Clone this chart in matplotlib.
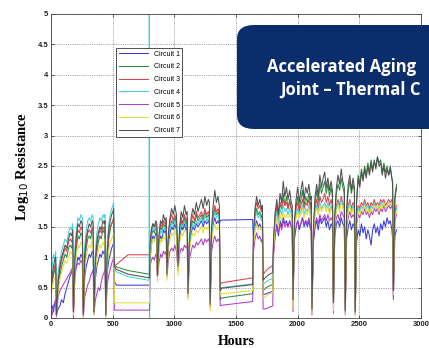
import matplotlib
matplotlib.use("Agg")
import matplotlib.pyplot as plt
from matplotlib.patches import FancyBboxPatch
from matplotlib.ticker import FuncFormatter

# hours of the samples (shared by every circuit)
hours = [
    0, 10, 20, 30, 38,
    44, 58, 72, 86, 100, 114, 128, 142, 156, 168, 176,
    182, 194, 206, 218, 230, 242, 254,
    262, 274, 286, 298, 310, 322, 334, 342,
    348, 360, 372, 384, 396, 408, 420, 432, 438,
    444, 456, 468, 480, 492, 502, 508,
    514, 530, 625, 795, 797, 799,
    803, 814, 826, 838, 850, 858,
    863, 875, 888, 900, 912, 924, 934,
    940, 952, 965, 978, 991, 1004, 1017, 1030, 1043, 1056, 1069, 1082, 1095, 1104,
    1111, 1122, 1136, 1150, 1164, 1178, 1192, 1206, 1220, 1234, 1248, 1262, 1276, 1284,
    1291, 1302, 1315, 1328, 1341, 1354, 1365,
    1372, 1385, 1635,
    1642, 1654, 1667, 1680, 1693, 1706, 1714,
    1720, 1745, 1772, 1798,
    1805, 1818, 1831, 1844, 1857, 1870, 1883, 1896, 1909, 1922, 1935, 1948, 1956,
    1962, 1974, 1987, 2000, 2013, 2026, 2039, 2052, 2065, 2078, 2091, 2104, 2110,
    2116, 2128, 2141, 2154, 2167, 2180, 2193, 2206, 2219, 2232, 2245, 2258, 2271, 2282,
    2290, 2301, 2314, 2327, 2340, 2353, 2366, 2378,
    2386, 2397, 2410, 2423, 2436, 2449, 2460,
    2467, 2478, 2491, 2504, 2517, 2530, 2543, 2556, 2569, 2582, 2595, 2608, 2621,
    2634, 2647, 2660, 2673, 2686, 2699, 2712, 2725, 2738, 2751, 2764, 2770,
    2776, 2788, 2802,
]

circuit1 = [
    0.15, 0.2, 0.1, 0.25, 0.3,
    0.05, 0.15, 0.2, 0.3, 0.25, 0.4, 0.5, 0.6, 0.7, 0.75, 0.85,
    0.1, 0.7, 0.85, 1.0, 0.95, 1.05, 1.0,
    0.05, 0.7, 0.85, 0.95, 1.05, 1.0, 1.1, 1.05,
    0.1, 0.65, 0.85, 0.95, 1.05, 1.0, 1.1, 1.05, 1.1,
    0.05, 0.75, 0.95, 1.05, 1.15, 1.2, 1.25,
    0.6, 0.54, 0.54, 0.54, 0.54, 0.54,
    0.95, 1.2, 1.35, 1.3, 1.4, 1.35,
    0.7, 1.15, 1.35, 1.3, 1.45, 1.4, 1.45,
    0.72, 1.2, 1.4, 1.5, 1.45, 1.55, 1.45, 0.82, 1.3, 1.5, 1.45, 1.55, 1.45, 1.5,
    0.42, 1.15, 1.4, 1.5, 1.45, 1.55, 1.5, 1.55, 1.6, 1.5, 1.6, 1.55, 1.6, 1.55,
    0.25, 1.35, 1.55, 1.65, 1.55, 1.6, 1.55,
    1.6, 1.61, 1.62,
    1.25, 1.5, 1.6, 1.5, 1.55, 1.45, 1.5,
    0.38, 0.4, 0.42, 0.44,
    1.1, 1.4, 1.55, 1.35, 1.6, 1.5, 1.65, 1.55, 1.6, 1.5, 1.6, 1.5, 1.45,
    0.3, 1.3, 1.5, 1.6, 1.45, 1.55, 1.65, 1.5, 1.6, 1.5, 1.6, 1.45, 1.5,
    0.15, 1.25, 1.5, 1.6, 1.45, 1.65, 1.55, 1.6, 1.65, 1.5, 1.6, 1.45, 1.55, 1.5,
    0.25, 1.35, 1.55, 1.6, 1.5, 1.65, 1.55, 1.5,
    0.1, 1.3, 1.5, 1.6, 1.45, 1.55, 1.5,
    0.08, 1.25, 1.45, 1.35, 1.55, 1.4, 1.5, 1.3, 1.45, 1.35, 1.2, 1.45, 1.55,
    1.4, 1.5, 1.35, 1.55, 1.45, 1.6, 1.5, 1.65, 1.55, 1.6, 1.45, 1.3,
    0.35, 1.35, 1.45,
]

circuit2 = [
    0.4, 0.6, 0.7, 0.8, 0.85,
    0.15, 0.5, 0.7, 0.85, 0.95, 1.05, 1.0, 1.15, 1.2, 1.15, 1.25,
    0.2, 0.85, 1.15, 1.35, 1.3, 1.4, 1.35,
    0.15, 0.9, 1.15, 1.3, 1.35, 1.3, 1.45, 1.4,
    0.2, 0.85, 1.1, 1.25, 1.35, 1.3, 1.45, 1.4, 1.45,
    0.15, 0.95, 1.3, 1.45, 1.55, 1.6, 1.65,
    0.88, 0.84, 0.78, 0.72, 0.72, 0.72,
    1.1, 1.35, 1.45, 1.4, 1.5, 1.45,
    0.75, 1.25, 1.5, 1.45, 1.55, 1.5, 1.55,
    0.8, 1.3, 1.5, 1.6, 1.55, 1.65, 1.55, 0.9, 1.4, 1.6, 1.5, 1.65, 1.55, 1.6,
    0.5, 1.2, 1.5, 1.6, 1.55, 1.7, 1.6, 1.65, 1.7, 1.6, 1.75, 1.65, 1.7, 1.65,
    0.35, 1.4, 1.65, 1.8, 1.7, 1.75, 1.65,
    0.3, 0.33, 0.4,
    1.3, 1.65, 1.8, 1.7, 1.75, 1.65, 1.7,
    0.45, 0.5, 0.53, 0.55,
    1.25, 1.65, 1.85, 1.6, 1.9, 1.8, 2.05, 1.85, 2.0, 1.8, 1.95, 1.8, 1.75,
    0.35, 1.55, 1.85, 2.0, 1.8, 1.95, 2.1, 1.85, 2.0, 1.9, 2.05, 1.85, 1.9,
    0.2, 1.45, 1.9, 2.1, 1.9, 2.2, 2.05, 2.15, 2.25, 2.05, 2.2, 2.0, 2.15, 2.0,
    0.3, 1.65, 2.05, 2.2, 2.1, 2.3, 2.15, 2.05,
    0.15, 1.75, 2.1, 2.25, 2.05, 2.2, 2.1,
    0.12, 1.95, 2.35, 2.2, 2.45, 2.3, 2.5, 2.35, 2.55, 2.4, 2.6, 2.45, 2.55,
    2.5, 2.65, 2.55, 2.6, 2.4, 2.55, 2.4, 2.5, 2.35, 2.45, 2.3, 2.25,
    0.5, 2.0, 2.2,
]

circuit3 = [
    0.5, 0.65, 0.75, 0.85, 0.9,
    0.1, 0.55, 0.8, 0.95, 1.05, 1.15, 1.1, 1.25, 1.3, 1.25, 1.35,
    0.15, 0.95, 1.25, 1.45, 1.4, 1.5, 1.45,
    0.1, 1.0, 1.25, 1.4, 1.45, 1.4, 1.5, 1.45,
    0.15, 0.9, 1.2, 1.35, 1.45, 1.4, 1.5, 1.45, 1.5,
    0.1, 1.0, 1.35, 1.5, 1.55, 1.6, 1.65,
    0.85, 0.88, 1.04, 1.04, 1.04, 1.04,
    1.25, 1.45, 1.55, 1.5, 1.55, 1.5,
    0.72, 1.3, 1.55, 1.5, 1.6, 1.55, 1.6,
    0.75, 1.35, 1.6, 1.7, 1.6, 1.7, 1.6, 0.85, 1.45, 1.65, 1.55, 1.7, 1.6, 1.65,
    0.45, 1.25, 1.55, 1.7, 1.6, 1.75, 1.65, 1.7, 1.75, 1.65, 1.8, 1.7, 1.75, 1.7,
    0.3, 1.45, 1.7, 1.85, 1.75, 1.8, 1.7,
    0.55, 0.58, 0.66,
    1.35, 1.75, 1.9, 1.8, 1.85, 1.75, 1.8,
    0.72, 0.78, 0.83, 0.86,
    1.3, 1.7, 1.85, 1.65, 1.9, 1.8, 1.95, 1.85, 1.9, 1.8, 1.9, 1.8, 1.75,
    0.4, 1.55, 1.8, 1.9, 1.75, 1.85, 1.95, 1.8, 1.9, 1.85, 1.95, 1.8, 1.85,
    0.25, 1.45, 1.8, 1.95, 1.8, 2.0, 1.9, 1.95, 2.05, 1.9, 2.0, 1.85, 1.95, 1.85,
    0.35, 1.6, 1.85, 1.95, 1.85, 2.0, 1.9, 1.85,
    0.2, 1.65, 1.85, 1.95, 1.8, 1.9, 1.85,
    0.15, 1.7, 1.85, 1.8, 1.9, 1.85, 1.95, 1.85, 1.9, 1.8, 1.9, 1.85, 1.95,
    1.85, 1.9, 1.85, 1.95, 1.9, 1.95, 1.85, 1.9, 1.95, 1.9, 1.95, 1.9,
    0.4, 1.75, 1.85,
]

circuit4 = [
    0.55, 0.85, 1.05, 0.95, 1.1,
    0.3, 0.75, 0.95, 1.1, 1.2, 1.3, 1.25, 1.4, 1.5, 1.45, 1.55,
    0.35, 1.15, 1.45, 1.65, 1.6, 1.7, 1.65,
    0.3, 1.2, 1.45, 1.6, 1.65, 1.6, 1.7, 1.65,
    0.3, 1.1, 1.4, 1.55, 1.65, 1.6, 1.7, 1.65, 1.7,
    0.25, 1.2, 1.55, 1.7, 1.8, 1.85, 1.9,
    0.82, 0.76, 0.68, 0.62, 5.8, -0.4,
    1.15, 1.4, 1.5, 1.45, 1.5, 1.45,
    0.75, 1.25, 1.45, 1.4, 1.5, 1.45, 1.5,
    0.78, 1.3, 1.5, 1.55, 1.5, 1.6, 1.5, 0.88, 1.4, 1.55, 1.5, 1.6, 1.5, 1.55,
    0.48, 1.2, 1.45, 1.55, 1.5, 1.6, 1.55, 1.6, 1.65, 1.55, 1.7, 1.6, 1.65, 1.6,
    0.3, 1.4, 1.6, 1.75, 1.65, 1.7, 1.6,
    0.48, 0.5, 0.56,
    1.3, 1.6, 1.75, 1.65, 1.7, 1.6, 1.65,
    0.55, 0.6, 0.63, 0.65,
    1.25, 1.6, 1.75, 1.55, 1.8, 1.7, 1.85, 1.75, 1.8, 1.7, 1.8, 1.7, 1.65,
    0.35, 1.5, 1.7, 1.8, 1.7, 1.75, 1.85, 1.7, 1.8, 1.75, 1.85, 1.7, 1.75,
    0.2, 1.4, 1.75, 1.85, 1.75, 1.9, 1.8, 1.85, 1.9, 1.8, 1.9, 1.75, 1.85, 1.75,
    0.3, 1.55, 1.8, 1.9, 1.8, 1.95, 1.85, 1.8,
    0.18, 1.6, 1.8, 1.9, 1.75, 1.85, 1.8,
    0.12, 1.65, 1.8, 1.75, 1.85, 1.8, 1.9, 1.8, 1.85, 1.75, 1.85, 1.8, 1.9,
    1.8, 1.85, 1.8, 1.9, 1.85, 1.9, 1.8, 1.85, 1.9, 1.85, 1.9, 1.85,
    0.45, 1.7, 1.8,
]

circuit5 = [
    0.1, 0.05, 0.2, 0.25, 0.3,
    0.02, 0.35, 0.45, 0.5, 0.55, 0.6, 0.65, 0.7, 0.75, 0.8, 0.82,
    0.0, 0.75, 0.85, 0.9, 0.88, 0.95, 0.9,
    0.0, 0.35, 0.45, 0.55, 0.6, 0.7, 0.75, 0.8,
    0.05, 0.3, 0.4, 0.5, 0.45, 0.6, 0.7, 0.75, 0.8,
    0.02, 0.55, 0.7, 0.8, 0.9, 0.95, 1.0,
    0.13, 0.13, 0.13, 0.13, 0.13, 0.13,
    0.85, 0.95, 1.0, 0.95, 1.05, 1.0,
    0.65, 0.9, 1.05, 1.0, 1.1, 1.05, 1.1,
    0.68, 0.95, 1.1, 1.15, 1.1, 1.2, 1.1, 0.78, 1.05, 1.15, 1.1, 1.2, 1.15, 1.2,
    0.35, 0.95, 1.1, 1.2, 1.15, 1.25, 1.2, 1.25, 1.3, 1.2, 1.3, 1.25, 1.3, 1.25,
    0.18, 1.1, 1.25, 1.35, 1.25, 1.3, 1.25,
    0.2, 0.21, 0.27,
    1.1, 1.3, 1.4, 1.3, 1.35, 1.25, 1.3,
    0.15, 0.15, 0.18, 0.2,
    1.05, 1.35, 1.5, 1.4, 1.55, 1.45, 1.6, 1.5, 1.55, 1.5, 1.6, 1.5, 1.45,
    0.1, 1.35, 1.5, 1.6, 1.5, 1.55, 1.65, 1.55, 1.6, 1.55, 1.65, 1.5, 1.55,
    0.05, 1.3, 1.55, 1.65, 1.55, 1.7, 1.6, 1.65, 1.7, 1.6, 1.7, 1.6, 1.65, 1.6,
    0.08, 1.45, 1.65, 1.7, 1.6, 1.75, 1.7, 1.65,
    0.05, 1.5, 1.65, 1.75, 1.65, 1.7, 1.65,
    0.05, 1.55, 1.7, 1.65, 1.75, 1.7, 1.8, 1.7, 1.75, 1.65, 1.75, 1.7, 1.8,
    1.75, 1.8, 1.7, 1.8, 1.75, 1.85, 1.75, 1.8, 1.85, 1.8, 1.85, 1.75,
    0.3, 1.6, 1.7,
]

circuit6 = [
    0.35, 0.5, 0.6, 0.65, 0.7,
    0.05, 0.45, 0.65, 0.75, 0.85, 0.95, 0.9, 1.0, 1.1, 1.05, 1.1,
    0.05, 0.8, 1.05, 1.2, 1.15, 1.25, 1.2,
    0.0, 0.8, 1.0, 1.15, 1.2, 1.15, 1.3, 1.25,
    0.05, 0.75, 1.0, 1.1, 1.2, 1.15, 1.25, 1.2, 1.3,
    0.0, 0.85, 1.1, 1.25, 1.3, 1.35, 1.4,
    0.25, 0.25, 0.25, 0.25, 0.25, 0.25,
    1.0, 1.2, 1.3, 1.25, 1.35, 1.3,
    0.6, 1.1, 1.3, 1.25, 1.35, 1.3, 1.35,
    0.62, 1.15, 1.3, 1.4, 1.35, 1.45, 1.35, 0.7, 1.25, 1.4, 1.35, 1.45, 1.4, 1.4,
    0.3, 1.1, 1.3, 1.4, 1.35, 1.45, 1.4, 1.45, 1.5, 1.4, 1.5, 1.45, 1.5, 1.45,
    0.12, 1.25, 1.45, 1.55, 1.45, 1.5, 1.45,
    0.38, 0.4, 0.45,
    1.2, 1.45, 1.55, 1.45, 1.5, 1.45, 1.5,
    0.32, 0.36, 0.4, 0.42,
    1.15, 1.5, 1.65, 1.5, 1.7, 1.6, 1.75, 1.65, 1.7, 1.65, 1.7, 1.65, 1.6,
    0.15, 1.45, 1.65, 1.75, 1.65, 1.7, 1.8, 1.65, 1.75, 1.7, 1.8, 1.65, 1.7,
    0.08, 1.4, 1.7, 1.8, 1.7, 1.85, 1.75, 1.8, 1.85, 1.75, 1.85, 1.7, 1.8, 1.75,
    0.12, 1.55, 1.75, 1.85, 1.75, 1.9, 1.8, 1.75,
    0.05, 1.55, 1.75, 1.85, 1.7, 1.8, 1.75,
    0.03, 1.6, 1.75, 1.7, 1.8, 1.75, 1.85, 1.75, 1.8, 1.7, 1.8, 1.75, 1.85,
    1.8, 1.85, 1.75, 1.85, 1.8, 1.9, 1.8, 1.85, 1.9, 1.85, 1.9, 1.8,
    0.38, 1.65, 1.75,
]

circuit7 = [
    0.45, 0.7, 0.85, 0.95, 1.0,
    0.05, 0.6, 0.85, 1.0, 1.1, 1.2, 1.15, 1.3, 1.4, 1.35, 1.45,
    0.1, 1.0, 1.35, 1.55, 1.5, 1.6, 1.55,
    0.05, 1.05, 1.3, 1.45, 1.55, 1.5, 1.6, 1.55,
    0.1, 0.95, 1.25, 1.4, 1.5, 1.45, 1.6, 1.55, 1.6,
    0.05, 1.1, 1.45, 1.6, 1.7, 1.75, 1.8,
    0.85, 0.8, 0.72, 0.66, 0.66, 0.66,
    1.2, 1.45, 1.55, 1.5, 1.6, 1.55,
    0.7, 1.35, 1.6, 1.55, 1.7, 1.6, 1.65,
    0.72, 1.4, 1.65, 1.8, 1.7, 1.85, 1.7, 0.85, 1.5, 1.75, 1.65, 1.85, 1.7, 1.75,
    0.4, 1.3, 1.65, 1.8, 1.7, 1.9, 1.75, 1.85, 1.95, 1.8, 2.0, 1.85, 1.95, 1.9,
    0.22, 1.5, 1.85, 2.1, 1.9, 2.0, 1.85,
    0.45, 0.49, 0.55,
    1.4, 1.8, 2.0, 1.85, 1.95, 1.8, 1.85,
    0.62, 0.68, 0.72, 0.75,
    1.3, 1.75, 1.95, 1.7, 2.05, 1.9, 2.25, 2.0, 2.15, 1.95, 2.1, 1.9, 1.85,
    0.3, 1.6, 1.95, 2.15, 1.9, 2.1, 2.25, 1.95, 2.15, 2.05, 2.2, 1.95, 2.0,
    0.15, 1.5, 2.0, 2.2, 2.0, 2.35, 2.15, 2.3, 2.4, 2.15, 2.3, 2.1, 2.25, 2.1,
    0.25, 1.7, 2.15, 2.35, 2.2, 2.45, 2.25, 2.15,
    0.12, 1.8, 2.2, 2.35, 2.1, 2.3, 2.15,
    0.1, 1.9, 2.3, 2.15, 2.4, 2.25, 2.45, 2.3, 2.5, 2.35, 2.55, 2.4, 2.6,
    2.45, 2.65, 2.5, 2.55, 2.35, 2.5, 2.3, 2.45, 2.35, 2.5, 2.3, 2.2,
    0.45, 1.95, 2.15,
]

series = [circuit1, circuit2, circuit3, circuit4, circuit5, circuit6, circuit7]
labels = ["Circuit 1", "Circuit 2", "Circuit 3", "Circuit 4",
          "Circuit 5", "Circuit 6", "Circuit 7"]
colors = ["#3a3ad8", "#2e8b3e", "#e0404a", "#45d0d8", "#b03cc8", "#e4dc3c", "#505050"]

xticks = [0, 500, 1000, 1500, 2000, 2500, 3000]
yticks = [0, 0.5, 1, 1.5, 2, 2.5, 3, 3.5, 4, 4.5, 5]

fig = plt.figure(figsize=(4.29, 3.48), dpi=100)
ax = fig.add_axes([51/429, 30/348, 370/429, 304/348])

for vals, lab, col in zip(series, labels, colors):
    ax.plot(hours, vals, color=col, lw=0.75, label=lab)

ax.set_xlim(0, 3000)
ax.set_ylim(0, 5)
ax.set_xticks(xticks)
ax.set_yticks(yticks)
ax.yaxis.set_major_formatter(FuncFormatter(lambda v, p: "%g" % v))
ax.tick_params(direction="in", length=2.5, width=0.5, labelsize=5.5, pad=2,
               colors="#222222", top=True, right=True)
for lab in ax.get_xticklabels() + ax.get_yticklabels():
    lab.set_fontfamily("Liberation Sans")
    lab.set_fontweight("bold")
for sp in ax.spines.values():
    sp.set_linewidth(0.6)
    sp.set_color("#444444")
ax.grid(True, color="#555555", linestyle=":", linewidth=0.5)

ax.set_xlabel("Hours", family="Liberation Serif", weight="bold", fontsize=10, labelpad=5)
ax.set_ylabel("Log$_{10}$ Resistance", family="Liberation Serif", weight="bold",
              fontsize=10.5, labelpad=5)

leg = ax.legend(loc="upper left", bbox_to_anchor=(65/370, 270/304), borderaxespad=0,
                handlelength=4.2, labelspacing=0.82, fancybox=False,
                framealpha=1, edgecolor="#333333", prop={"family": "Liberation Sans", "size": 5})
leg.get_frame().set_linewidth(0.6)

# title banner pasted over the plot (cut by the right edge in the source)
box = FancyBboxPatch((237/429, (348-129)/348), 230/429, 104/348,
                     boxstyle="round,pad=0,rounding_size=0.04",
                     transform=fig.transFigure, facecolor="#0c2d6b",
                     edgecolor="none", clip_on=False, zorder=10)
fig.patches.append(box)
fig.text(267/429, 1 - 72/348, "Accelerated Aging", color="white",
         family="Open Sans", weight="bold", fontsize=12, ha="left", va="baseline", zorder=11)
fig.text(280/429, 1 - 95/348, "Joint \u2013 Thermal C", color="white",
         family="Open Sans", weight="bold", fontsize=12, ha="left", va="baseline", zorder=11)

fig.savefig("out.png", dpi=100)
